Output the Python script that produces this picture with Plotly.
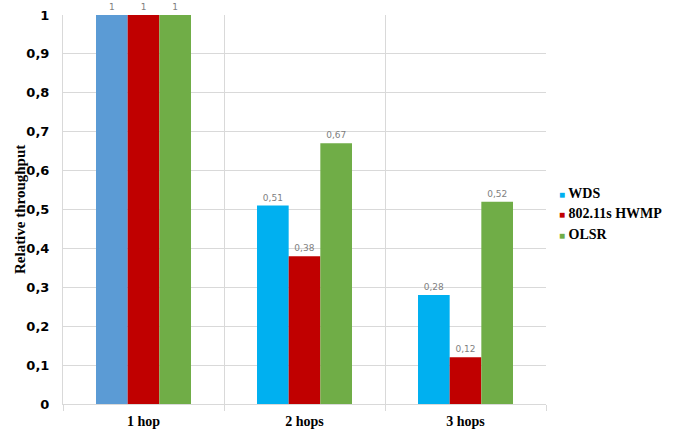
import plotly.graph_objects as go

categories = ["1 hop", "2 hops", "3 hops"]
wds = [1, 0.51, 0.28]
hwmp = [1, 0.38, 0.12]
olsr = [1, 0.67, 0.52]

series_names = ["WDS", "802.11s HWMP", "OLSR"]
wds_colors = ["#5B9BD5", "#00B0F0", "#00B0F0"]
hwmp_color = "#C00000"
olsr_color = "#70AD47"
legend_colors = ["#00B0F0", hwmp_color, olsr_color]

label_font = dict(family="DejaVu Sans", size=9, color="#7F7F7F")
serif_bold = dict(family="Liberation Serif", color="#000000", weight="bold")

fig = go.Figure()
for name, vals, col in [
    (series_names[0], wds, wds_colors),
    (series_names[1], hwmp, hwmp_color),
    (series_names[2], olsr, olsr_color),
]:
    fig.add_trace(go.Bar(
        x=categories, y=vals, name=name, marker=dict(color=col, line=dict(width=0)),
        text=[f"{v:g}".replace(".", ",") for v in vals], textposition="outside",
        textfont=label_font, cliponaxis=False, showlegend=False,
    ))

# compact legend: small coloured square followed by the series name
for i, (name, col) in enumerate(zip(series_names, legend_colors)):
    fig.add_annotation(
        xref="paper", yref="paper", x=1.023, y=0.54 - i * 0.0515,
        xanchor="left", yanchor="middle", showarrow=False,
        text=f'<span style="color:{col};font-size:10px">■</span> {name}',
        font=dict(size=14, **serif_bold),
    )

# y-axis title
fig.add_annotation(
    xref="paper", yref="paper", x=-0.09, y=0.5, xanchor="center", yanchor="middle",
    showarrow=False, textangle=-90, text="Relative throughput",
    font=dict(size=15, **serif_bold),
)

fig.update_layout(
    width=690, height=435,
    margin=dict(l=63, r=144, t=15, b=31),
    paper_bgcolor="white", plot_bgcolor="white",
    barmode="group", bargap=0.41, bargroupgap=0,
    separators=",.",
    showlegend=False,
    xaxis=dict(
        type="category", tickson="boundaries", ticks="outside", ticklen=6,
        tickcolor="#D9D9D9", showgrid=True, gridcolor="#D9D9D9", gridwidth=1,
        showline=True, linecolor="#D9D9D9", linewidth=1, automargin=False,
        ticklabelstandoff=4,
        tickfont=dict(size=14, **serif_bold),
    ),
    yaxis=dict(
        range=[0, 1], dtick=0.1, showgrid=True, gridcolor="#D9D9D9", gridwidth=1,
        zeroline=False, ticks="", ticklabelstandoff=10, automargin=False,
        showline=True, linecolor="#D9D9D9", linewidth=1,
        tickfont=dict(family="DejaVu Sans", size=13, color="#000000", weight="bold"),
    ),
)

fig.write_html("out.html")
